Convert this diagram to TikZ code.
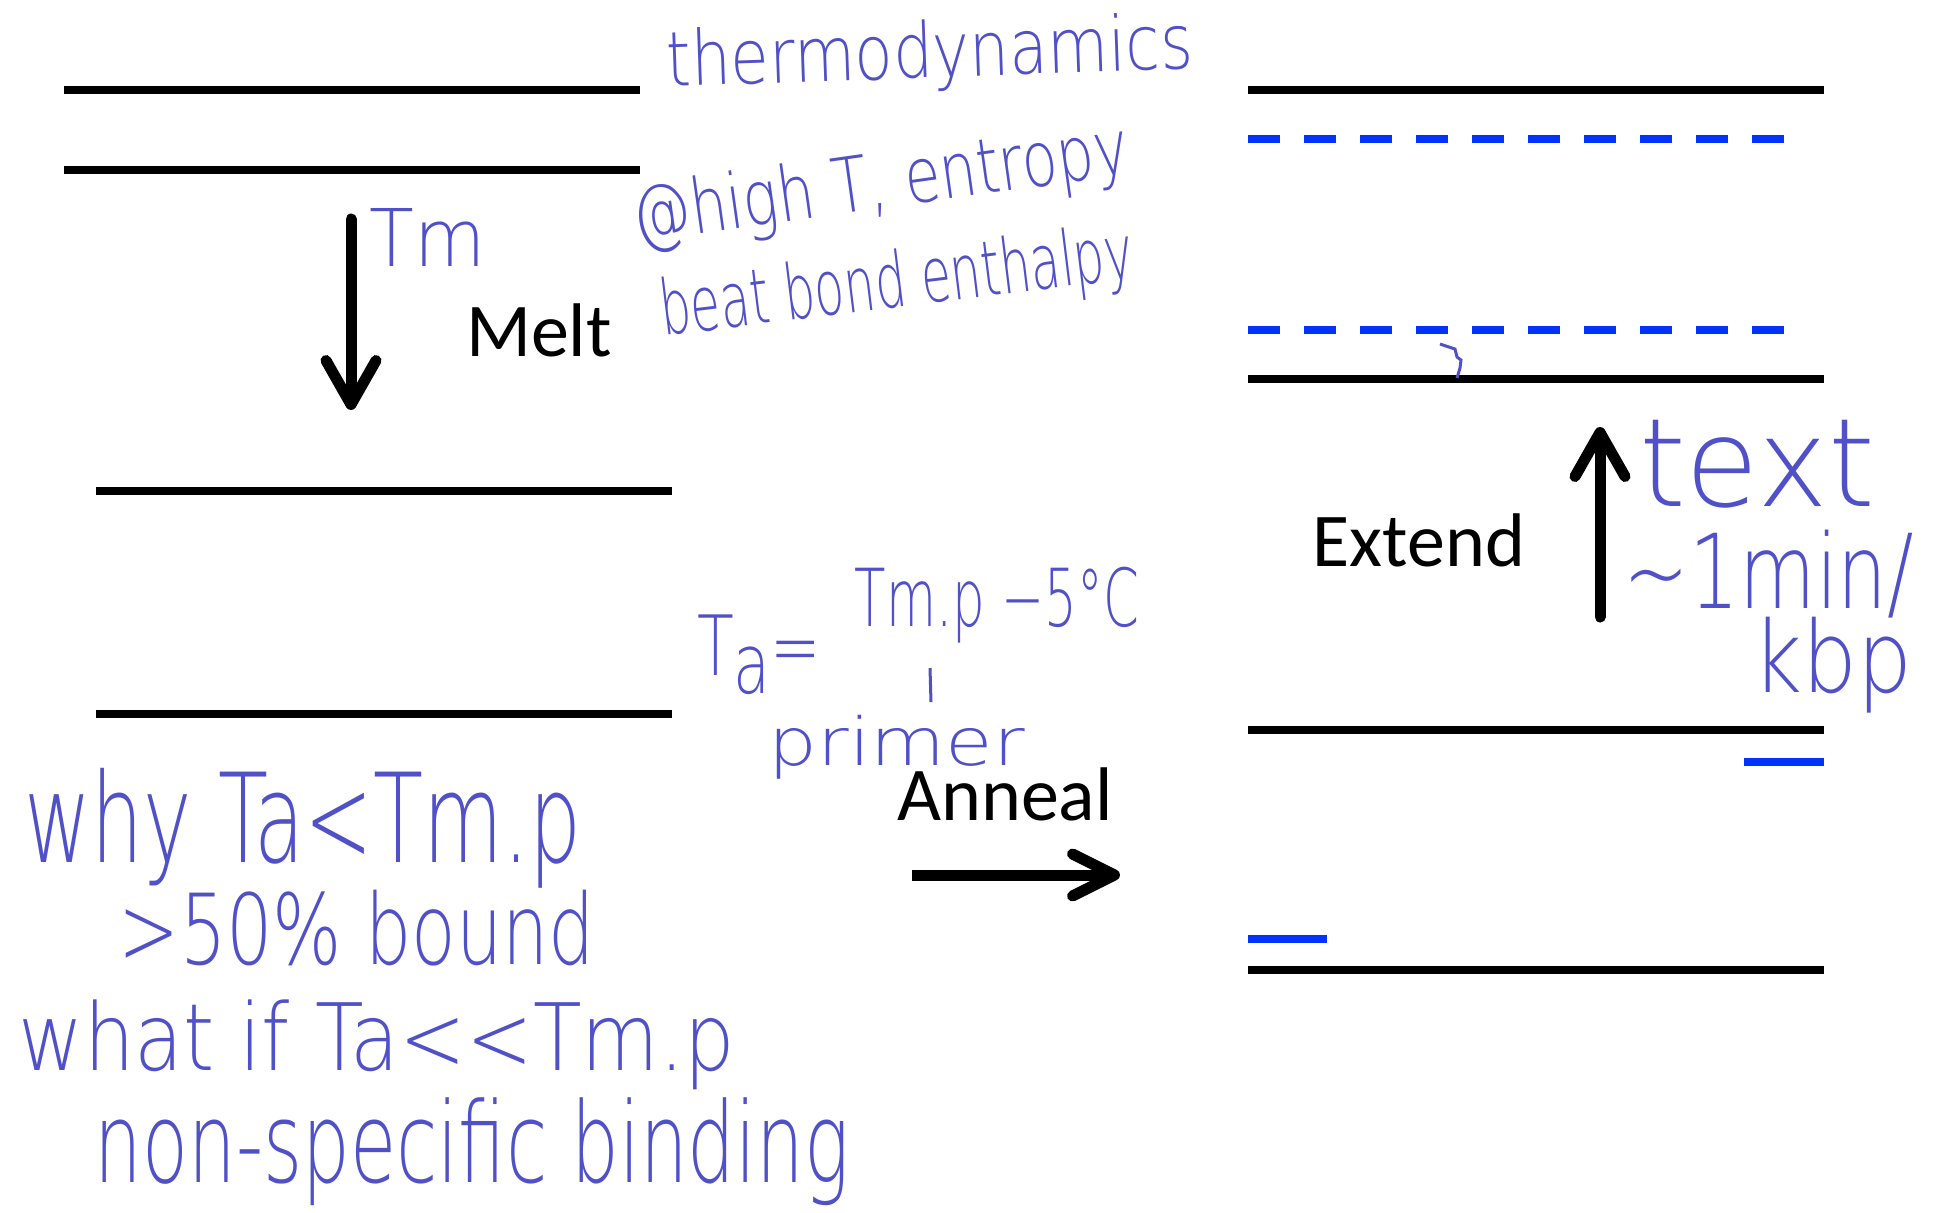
\documentclass[tikz,border=0pt]{standalone}
\usepackage{fontspec}
\setmainfont{Carlito}
\newfontfamily\handfont{DejaVu Sans ExtraLight}
\usetikzlibrary{arrows.meta}
\definecolor{ink}{RGB}{80,80,200}
\definecolor{dnablue}{RGB}{0,51,255}
\newcommand{\hw}[3]{\resizebox*{#1}{#2}{#3}}
\begin{document}
\begin{tikzpicture}[x=0.5pt,y=-0.5pt,
  strand/.style={line width=4pt},
  primerstrand/.style={line width=4pt, dnablue},
  dashedstrand/.style={line width=4pt, dnablue, dash pattern=on 16pt off 12pt},
  bigarrow/.style={line width=5.5pt, line cap=round, -{Straight Barb[length=22pt,width=25pt,round]}},
  annealarrow/.style={line width=5.5pt, -{Straight Barb[length=21pt,width=21pt,round]}},
  steplabel/.style={font=\fontsize{38}{40}\selectfont, inner sep=0pt},
  hand/.style={text=ink, inner sep=0pt, font=\handfont},
  inkline/.style={ink, line width=1.5pt}]
\useasboundingbox (0,0) rectangle (1940,1212);
% left: double strand
\draw[strand] (64,90) -- (640,90);
\draw[strand] (64,170) -- (640,170);
% left: separated strands
\draw[strand] (96,491) -- (672,491);
\draw[strand] (96,714) -- (672,714);
% right top: extension
\draw[strand] (1248,90) -- (1824,90);
\draw[dashedstrand] (1248,139) -- (1788,139);
\draw[dashedstrand] (1248,330) -- (1788,330);
\draw[strand] (1248,379) -- (1824,379);
% right bottom: annealed primers
\draw[strand] (1248,730) -- (1824,730);
\draw[primerstrand] (1744,762) -- (1824,762);
\draw[primerstrand] (1248,939) -- (1327,939);
\draw[strand] (1248,970) -- (1824,970);
% arrows
\coordinate (meltA) at (351,219);
\coordinate (meltB) at (351,410);
\draw[bigarrow] (meltA) -- (meltB);
\coordinate (extA) at (1600,617);
\coordinate (extB) at (1600,427);
\draw[bigarrow] (extA) -- (extB);
\coordinate (annA) at (912,875);
\coordinate (annB) at (1120,875);
\draw[annealarrow] (annA) -- (annB);
% step labels
\node[steplabel] (melt) at (539,330) {Melt};
\node[steplabel] (extend) at (1419,540) {Extend};
\node[steplabel] (anneal) at (1005,794) {Anneal};
% handwritten notes
\node[hand, rotate=2] (n1) at (930,56) {\hw{263pt}{36pt}{thermodynamics}};
\node[hand, rotate=8] (n2) at (881,187) {\hw{250pt}{37pt}{@high T, entropy}};
\node[hand, rotate=7] (n3) at (897,286) {\hw{238pt}{37pt}{beat bond enthalpy}};
\node[hand] (n4) at (428,237) {\hw{58pt}{29pt}{Tm}};
\node[hand] (n5) at (759,655) {\hw{62pt}{40pt}{T\raisebox{-.4ex}{a}=}};
\node[hand] (n6) at (997,605) {\hw{142pt}{38pt}{Tm.p −5°C}};
\node[hand] (n7) at (897,747) {\hw{128pt}{32pt}{primer}};
\node[hand] (n8) at (1757,464) {\hw{118pt}{44pt}{text}};
\node[hand] (n9) at (1769,574) {\hw{145pt}{44pt}{\textasciitilde 1min/}};
\node[hand] (n10) at (1832,665) {\hw{80pt}{48pt}{kbp}};
\node[hand] (n11) at (303,828) {\hw{278pt}{60pt}{why Ta<Tm.p}};
\node[hand] (n12) at (357,928) {\hw{238pt}{38pt}{>50\% bound}};
\node[hand] (n13) at (377,1045) {\hw{358pt}{45pt}{what if Ta<{}<Tm.p}};
\node[hand] (n14) at (472,1152) {\hw{377pt}{54pt}{non-specific binding}};
\draw[inkline] (930,668) -- (931,702);
\draw[inkline] (1440,344) -- (1455,349) -- (1457,357) -- (1461,360) -- (1460,368) -- (1457,378);
\end{tikzpicture}
\end{document}
